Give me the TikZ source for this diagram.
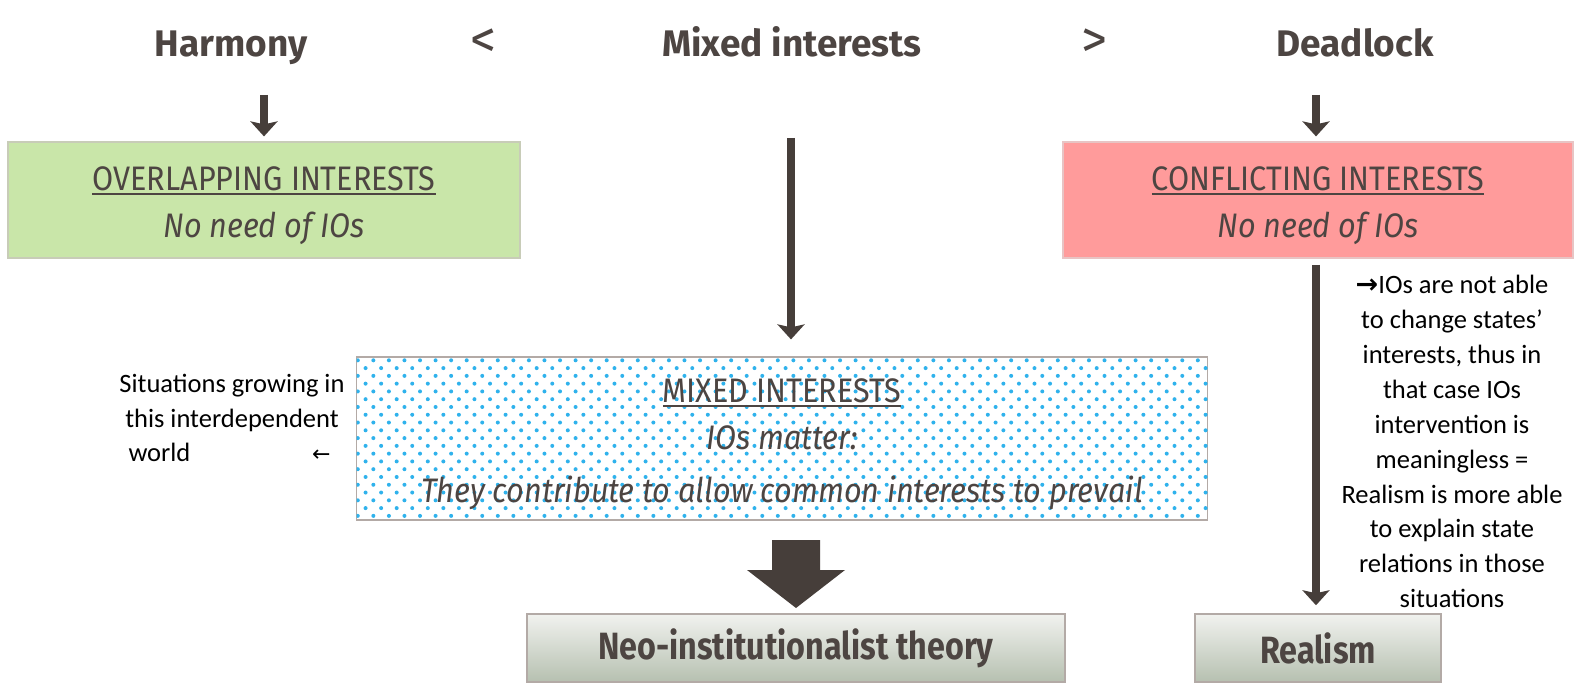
\documentclass[tikz,border=0pt]{standalone}
\usepackage{fontspec}
\setmainfont{Fira Sans}
\newfontfamily\condfont[FakeStretch=0.9]{Fira Sans}
\newfontfamily\bcondfont[FakeStretch=0.85]{Fira Sans}
\newfontfamily\calfont{Carlito}
\newfontfamily\dejafont{DejaVu Sans}
\usetikzlibrary{arrows.meta,patterns.meta}
\definecolor{txt}{HTML}{4D4542}
\definecolor{arrowcol}{HTML}{463E3A}
\definecolor{gfill}{HTML}{C9E6A9}
\definecolor{gbord}{HTML}{C8CCB8}
\definecolor{rfill}{HTML}{FF9B9B}
\definecolor{rbord}{HTML}{E8C4C4}
\definecolor{dotc}{HTML}{2FB2EC}
\definecolor{btop}{HTML}{F1F2EF}
\definecolor{bbot}{HTML}{B6C0B0}
\definecolor{bord}{HTML}{B3AAA6}
\newcommand\myul[1]{\setbox0\hbox{#1}\rlap{\rule[-4pt]{\wd0}{1.6pt}}\box0}
\begin{document}
\begin{tikzpicture}[x=1pt,y=-1pt,
  title/.style={font=\fontsize{37}{40}\selectfont\bfseries, text=txt, inner sep=0pt, anchor=base},
  chev/.style={font=\fontsize{52}{60}\selectfont, text=txt, inner sep=0pt},
  boxtxt/.style={font=\condfont\fontsize{34}{47}\selectfont, text=txt, align=center},
  gbox/.style={fill=gfill, draw=gbord, line width=1.2pt, minimum width=512pt, minimum height=116pt},
  rbox/.style={fill=rfill, draw=rbord, line width=1.2pt, minimum width=510pt, minimum height=116pt},
  resbox/.style={font=\bcondfont\bfseries\fontsize{38}{40}\selectfont, text=txt, draw=bord, line width=1.5pt,
     top color=btop, bottom color=bbot, minimum height=68pt},
  arr/.style={draw=arrowcol, line width=8pt, -{Stealth[length=15pt,width=27pt,inset=3pt]}},
  note/.style={font=\calfont\fontsize{26.5}{34.9}\selectfont, text=black, align=center, inner sep=0pt}
]
\useasboundingbox (0,0) rectangle (1575,687);
\fill[white] (0,0) rectangle (1575,687);

% titles
\node[title] (harm) at (231,57) {Harmony};
\node[chev] (lt) at (483,43) {<};
\node[title] (mix) at (792,57) {Mixed interests};
\node[chev] (gt) at (1094,43) {>};
\node[title] (dead) at (1355,57) {Deadlock};

% boxes
\node[gbox] (over) at (264,200) {};
\node[boxtxt] (overt) at ([yshift=-6pt]over.center) {\myul{OVERLAPPING INTERESTS}\\ \itshape No need of IOs};
\node[rbox] (conf) at (1318,200) {};
\node[boxtxt] (conft) at ([yshift=-6pt]conf.center) {\myul{CONFLICTING INTERESTS}\\ \itshape No need of IOs};

\node[minimum width=851pt, minimum height=163pt, fill=white, draw=bord, line width=1.2pt,
  postaction={pattern={Dots[distance=11pt,radius=2pt,angle=45]}, pattern color=dotc}] (mbox) at (782,438.5) {};
\node[boxtxt] (mtxt) at ([yshift=-6pt]mbox.center) {\myul{MIXED INTERESTS}\\ \itshape IOs matter:\\[6pt] \itshape They contribute to allow common interests to prevail};

\node[resbox, minimum width=538pt] (neo) at (796,648) {Neo-institutionalist theory};
\node[resbox, minimum width=246pt] (real) at (1318,648) {Realism};

% connectors
\coordinate (h1) at (264,95);
\draw[arr, shorten >=5pt] (h1) -- (over.north);
\coordinate (d1) at (1316,95);
\draw[arr, shorten >=5pt] (d1) -- (d1 |- conf.north);
\coordinate (m1) at (791,138);
\draw[arr, shorten >=17pt] (m1) -- (m1 |- mbox.north);
\coordinate (r1) at (1316,265);
\draw[arr, shorten >=8pt] (r1) -- (r1 |- real.north);

% block arrow
\coordinate (ba) at (796,540);
\fill[arrowcol] (ba) ++(-24,0) -- ++(48,0) -- ++(0,30) -- ++(25,0) -- (796,608) -- (747,570) -- ++(25,0) -- cycle;

% side notes
\node[note, anchor=north] (rnote) at (1452,275) {{\dejafont\bfseries\fontsize{27}{30}\selectfont →}IOs are not able\\to change states’\\interests, thus in\\that case IOs\\intervention is\\meaningless =\\Realism is more able\\to explain state\\relations in those\\situations};
\node[note] (lnote) at (232,418) {Situations growing in\\this interdependent\\\makebox[213pt]{\hspace{3pt}world\hfill{\dejafont\fontsize{22}{30}\selectfont ←}\hspace{8pt}}};
\end{tikzpicture}
\end{document}
